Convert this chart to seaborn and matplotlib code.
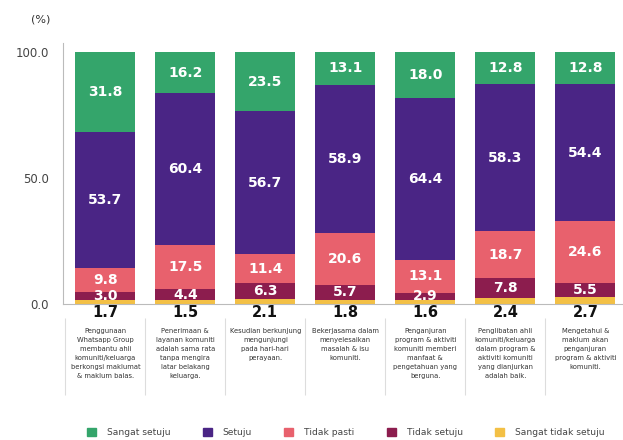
import pandas as pd
import numpy as np
from matplotlib import pyplot as plt
from matplotlib.patches import Patch
import seaborn as sns

# Data (%), bottom -> top of stack
statements = [
    "Penggunaan\nWhatsapp Group\nmembantu ahli\nkomuniti/keluarga\nberkongsi maklumat\n& maklum balas.",
    "Penerimaan &\nlayanan komuniti\nadalah sama rata\ntanpa mengira\nlatar belakang\nkeluarga.",
    "Kesudian berkunjung\nmengunjungi\npada hari-hari\nperayaan.",
    "Bekerjasama dalam\nmenyelesaikan\nmasalah & isu\nkomuniti.",
    "Penganjuran\nprogram & aktiviti\nkomuniti memberi\nmanfaat &\npengetahuan yang\nberguna.",
    "Penglibatan ahli\nkomuniti/keluarga\ndalam program &\naktiviti komuniti\nyang dianjurkan\nadalah baik.",
    "Mengetahui &\nmaklum akan\npenganjuran\nprogram & aktiviti\nkomuniti.",
]
sangat_tidak_setuju = [1.7, 1.5, 2.1, 1.8, 1.6, 2.4, 2.7]
tidak_setuju = [3.0, 4.4, 6.3, 5.7, 2.9, 7.8, 5.5]
tidak_pasti = [9.8, 17.5, 11.4, 20.6, 13.1, 18.7, 24.6]
setuju = [53.7, 60.4, 56.7, 58.9, 64.4, 58.3, 54.4]
sangat_setuju = [31.8, 16.2, 23.5, 13.1, 18.0, 12.8, 12.8]

levels = ["Sangat tidak setuju", "Tidak setuju", "Tidak pasti", "Setuju", "Sangat setuju"]
colours = ["#f3c045", "#8c1d4e", "#e8616d", "#4a2585", "#34a56b"]

vals = np.array([sangat_tidak_setuju, tidak_setuju, tidak_pasti, setuju, sangat_setuju])
tops = vals.cumsum(axis=0)
bottoms = tops - vals

keys = [str(i + 1) for i in range(len(statements))]
df = pd.DataFrame({"item": keys})
for lvl, t in zip(levels, tops):
    df[lvl] = t

sns.set_theme(style="white")
plt.rcParams["font.family"] = ["DejaVu Sans"]

fig = plt.figure(figsize=(6.23, 4.4), dpi=100)
ax = fig.add_axes([0.101, 0.309, 0.899, 0.593])

# stacked bars: draw cumulative totals from the top level down
for lvl, col in reversed(list(zip(levels, colours))):
    sns.barplot(data=df, x="item", y=lvl, color=col, width=0.75,
                saturation=1, linewidth=0, edgecolor="none", ax=ax, zorder=2)

# value labels
for j in range(len(keys)):
    for i in range(1, len(levels)):
        ax.text(j, bottoms[i, j] + vals[i, j] / 2, f"{vals[i, j]:.1f}",
                ha="center", va="center", color="white",
                fontsize=10, fontweight="bold", zorder=5)
    ax.text(j, -0.4, f"{vals[0, j]:.1f}", ha="center", va="top",
            color="#111111", fontsize=10.5, fontweight="bold", clip_on=False)

ax.set_ylim(0, 103.6)
ax.set_xlim(-0.53, 6.47)
ax.set_yticks([0, 50, 100])
ax.set_yticklabels(["0.0", "50.0", "100.0"], fontsize=8.5, color="#444444")
ax.set_xticks(range(len(keys)))
ax.set_xticklabels(statements, fontsize=4.9, color="#333333",
                   linespacing=1.6, multialignment="center")
ax.tick_params(axis="x", length=0, pad=17)
ax.tick_params(axis="y", length=0, pad=10)
ax.set_xlabel("")
ax.set_ylabel("")
sns.despine(ax=ax)
for s in ["left", "bottom"]:
    ax.spines[s].set_color("#bbbbbb")
    ax.spines[s].set_linewidth(0.8)

# separators under the axis between statements
ax.vlines(np.arange(-0.5, 6.5, 1.0), -0.35, -0.055, color="#dddddd",
          linewidth=0.8, transform=ax.get_xaxis_transform(), clip_on=False)

fig.text(0.05, 0.955, "(%)", fontsize=8, color="#333333", ha="left", va="center")

handles = [Patch(color=c, label=l) for l, c in zip(levels, colours)]
order = [4, 3, 2, 1, 0]
fig.legend([handles[i] for i in order], [levels[i] for i in order],
           loc="center", bbox_to_anchor=(0.555, 0.017), ncol=5, frameon=False,
           fontsize=6.6, handlelength=1.0, handleheight=1.0,
           columnspacing=3.5, handletextpad=1.2, labelcolor="#444444")

fig.savefig("out.png", dpi=100)
